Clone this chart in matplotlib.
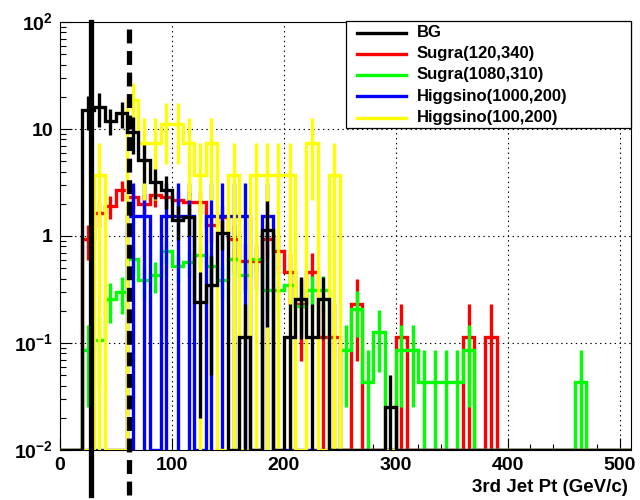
import numpy as np
import matplotlib
matplotlib.use('Agg')
import matplotlib.pyplot as plt
import matplotlib.transforms as mtransforms
from matplotlib.lines import Line2D
from matplotlib.patches import Rectangle
from matplotlib.ticker import FixedLocator, NullFormatter

plt.rcParams['font.family'] = 'Liberation Sans'
plt.rcParams['font.weight'] = 'bold'
plt.rcParams['mathtext.fontset'] = 'custom'
plt.rcParams['mathtext.rm'] = 'Liberation Sans:bold'
plt.rcParams['mathtext.bf'] = 'Liberation Sans:bold'
plt.rcParams['lines.scale_dashes'] = False

# 3rd jet pt histograms, 10 GeV/c bins from 0 to 510
edges = np.arange(0, 520, 10)
centers = edges[:-1] + 5

bg = [0, 0, 15, 16, 12, 14, 9.4, 5.1, 3.2, 2.7,
      1.41, 1.5, 0.24, 0.35, 1.07, 0, 0.115, 0, 1.14, 0,
      0.115, 0.26, 0.115, 0.26, 0, 0, 0, 0, 0, 0.025,
      0, 0, 0, 0, 0, 0, 0, 0, 0, 0,
      0, 0, 0, 0, 0, 0, 0, 0, 0, 0, 0]
bg_err = [0, 0, 5.3, 5.6, 3.3, 3.7, 3.5, 2.0, 1.0, 0.9,
          0.5, 0.5, 0.22, 0.3, 0.33, 0, 0.115, 0, 1.0, 0,
          0.115, 0.15, 0.115, 0.15, 0, 0, 0, 0, 0, 0.025,
          0, 0, 0, 0, 0, 0, 0, 0, 0, 0,
          0, 0, 0, 0, 0, 0, 0, 0, 0, 0, 0]

sugra_120_340 = [0, 0, 0.93, 1.63, 1.9, 2.7, 2.3, 2.0, 2.4, 2.3,
                 2.15, 2.1, 2.1, 1.26, 1.5, 0.93, 0.58, 0.58, 0.93, 0.72,
                 0.46, 0.23, 0.46, 0.115, 0.115, 0, 0.23, 0, 0, 0,
                 0.115, 0, 0, 0, 0, 0, 0.115, 0, 0.115, 0,
                 0, 0, 0, 0, 0, 0, 0, 0, 0, 0, 0]
sugra_1080_310 = [0, 0, 0.086, 0.107, 0.26, 0.30, 0.61, 0.39, 0.43, 0.72,
                  0.52, 0.57, 0.66, 0.52, 0.39, 0.61, 0.43, 0.61, 0.31, 0.31,
                  0.35, 0.22, 0.31, 0.31, 0, 0.086, 0.21, 0.043, 0.128, 0,
                  0.086, 0.086, 0.043, 0.043, 0.043, 0.043, 0.086, 0, 0, 0,
                  0, 0, 0, 0, 0, 0, 0.043, 0, 0, 0, 0]
higgsino_1000_200 = [0, 0, 0, 0, 0, 0, 1.55, 1.55, 0, 1.55,
                     1.55, 1.55, 0, 1.55, 1.55, 1.55, 1.55, 0, 1.55, 0,
                     0, 0, 0, 0, 0, 0, 0, 0, 0, 0,
                     0, 0, 0, 0, 0, 0, 0, 0, 0, 0,
                     0, 0, 0, 0, 0, 0, 0, 0, 0, 0, 0]
higgsino_100_200 = [0, 0, 0, 3.7, 0, 0, 18.5, 7.4, 7.4, 11.1,
                    11.1, 7.4, 3.7, 7.4, 0, 3.7, 0, 3.7, 3.7, 3.7,
                    3.7, 0, 7.4, 0, 3.7, 0, 0, 0, 0, 0,
                    0, 0, 0, 0, 0, 0, 0, 0, 0, 0,
                    0, 0, 0, 0, 0, 0, 0, 0, 0, 0, 0]

# per-event weight of each signal sample (for sqrt(N) errors)
w_sugra_120_340 = 0.115
w_sugra_1080_310 = 0.043
w_higgsino_1000_200 = 1.55
w_higgsino_100_200 = 3.7

labels = ['BG', 'Sugra(120,340)', 'Sugra(1080,310)',
          'Higgsino(1000,200)', 'Higgsino(100,200)']
colors = ['black', '#ff0000', '#00ff00', '#0000ff', '#ffff00']

x_ticks = [0, 100, 200, 300, 400, 500]
x_ticklabels = ['0', '100', '200', '300', '400', '500']
y_ticks = [1e-2, 1e-1, 1, 10, 1e2]
y_ticklabels = [r'$10^{-2}$', r'$10^{-1}$', '1', '10', r'$10^{2}$']

# pt cuts
cut_solid = 28
cut_dashed = 62

YMIN, YMAX = 1e-2, 1e2

fig = plt.figure(figsize=(6.4, 5.0), dpi=100)
ax = fig.add_axes([60 / 640, 50 / 500, 571 / 640, 428 / 500])
ax.set_yscale('log')
ax.set_xlim(0, 510)
ax.set_ylim(YMIN, YMAX)


def draw_hist(vals, errs, color, z):
    vals = np.asarray(vals, dtype=float)
    errs = np.asarray(errs, dtype=float)
    shown = np.where(vals > 0, vals, YMIN)
    ax.stairs(shown, edges, baseline=None, color=color, lw=2.4, zorder=z)
    m = vals > 0
    lo = np.maximum(vals[m] - errs[m], YMIN * 0.5)
    ax.vlines(centers[m], lo, vals[m] + errs[m], color=color, lw=2.4, zorder=z)


def poisson_err(vals, w):
    return np.sqrt(np.asarray(vals, dtype=float) * w)


draw_hist(sugra_120_340, poisson_err(sugra_120_340, w_sugra_120_340), colors[1], 3)
draw_hist(sugra_1080_310, poisson_err(sugra_1080_310, w_sugra_1080_310), colors[2], 4)
draw_hist(higgsino_1000_200, poisson_err(higgsino_1000_200, w_higgsino_1000_200), colors[3], 5)
draw_hist(higgsino_100_200, poisson_err(higgsino_100_200, w_higgsino_100_200), colors[4], 6)
draw_hist(bg, bg_err, colors[0], 7)

# cut lines run past the bottom of the frame
trans = mtransforms.blended_transform_factory(ax.transData, ax.transAxes)
ax.add_line(Line2D([cut_solid, cut_solid], [-0.105, 1.0], transform=trans,
                   color='black', lw=3.8, clip_on=False, zorder=10))
ax.add_line(Line2D([cut_dashed, cut_dashed], [-0.105, 1.0], transform=trans,
                   color='black', lw=3.8, dashes=(10, 5.5), clip_on=False, zorder=10))

# dotted grid
for gx in x_ticks[1:]:
    ax.axvline(gx, color='black', lw=0.8, ls=(0, (1, 2.5)), zorder=1)
for gy in y_ticks[1:-1]:
    ax.axhline(gy, color='black', lw=0.8, ls=(0, (1, 2.5)), zorder=1)

# ticks
ax.xaxis.set_major_locator(FixedLocator(x_ticks))
ax.xaxis.set_minor_locator(FixedLocator(np.arange(20, 510, 20)))
ax.yaxis.set_major_locator(FixedLocator(y_ticks))
ax.yaxis.set_minor_locator(FixedLocator(
    [m * 10.0 ** e for e in range(-2, 2) for m in range(2, 10)]))
ax.yaxis.set_minor_formatter(NullFormatter())
ax.xaxis.set_minor_formatter(NullFormatter())
ax.set_xticklabels(x_ticklabels)
ax.set_yticklabels(y_ticklabels)
ax.tick_params(which='both', direction='in', top=False, right=False, width=0.8)
ax.tick_params(which='major', length=8.5, labelsize=14)
ax.tick_params(axis='x', which='major', pad=5)
ax.tick_params(axis='y', which='major', pad=5)
ax.tick_params(which='minor', length=4.5)
for sp in ax.spines.values():
    sp.set_linewidth(0.8)

fig.text(628 / 640, 1 - 487 / 500, '3rd Jet Pt (GeV/c)', ha='right', va='center',
         fontsize=13.5, fontweight='bold')


# legend box in the upper right corner
def fx(px):
    return px / 640


def fy(py):
    return 1 - py / 500


fig.patches.append(Rectangle((fx(345.5), fy(128)), fx(631) - fx(345.5), fy(21) - fy(128),
                             transform=fig.transFigure, facecolor='white',
                             edgecolor='black', lw=0.9, zorder=20))
for i, (lab, col) in enumerate(zip(labels, colors)):
    yy = fy(32.5 + 21.25 * i)
    fig.lines.append(Line2D([fx(357), fx(406)], [yy, yy], transform=fig.transFigure,
                            color=col, lw=2.4, zorder=21))
    fig.text(fx(417), yy, lab, ha='left', va='center', fontsize=12,
             fontweight='bold', zorder=21)

fig.savefig('out.png', dpi=100)
